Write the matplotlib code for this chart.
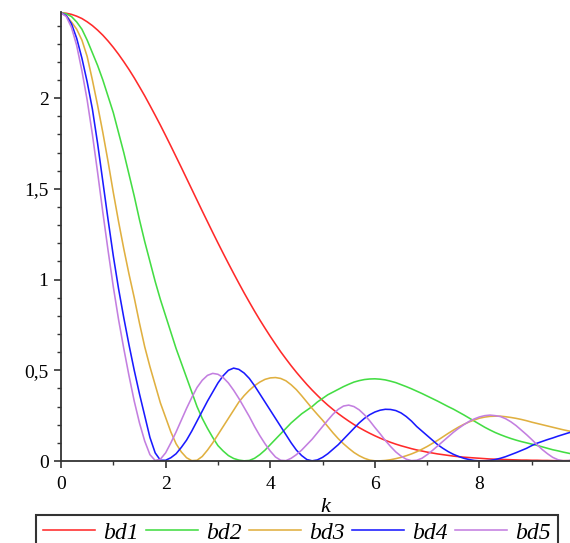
import matplotlib
matplotlib.use("Agg")
import matplotlib.pyplot as plt
import numpy as np
from matplotlib.ticker import MultipleLocator, FuncFormatter

# sample positions on k (0 .. 9.8, every 0.1)
k = np.round(np.arange(99) * 0.1, 1)

# values at those k
bd1 = [2.47, 2.468, 2.462, 2.452, 2.439, 2.421, 2.40, 2.375, 2.347, 2.315,
       2.28, 2.242, 2.201, 2.158, 2.112, 2.063, 2.013, 1.96, 1.906, 1.851,
       1.794, 1.736, 1.677, 1.618, 1.558, 1.498, 1.438, 1.378, 1.319, 1.26,
       1.202, 1.145, 1.089, 1.034, 0.98, 0.927, 0.876, 0.826, 0.778, 0.732,
       0.687, 0.644, 0.602, 0.563, 0.525, 0.489, 0.455, 0.422, 0.391, 0.362,
       0.334, 0.308, 0.284, 0.261, 0.24, 0.22, 0.201, 0.184, 0.168, 0.153,
       0.139, 0.126, 0.114, 0.103, 0.093, 0.084, 0.076, 0.068, 0.061, 0.055,
       0.049, 0.044, 0.039, 0.035, 0.031, 0.027, 0.024, 0.021, 0.019, 0.017,
       0.015, 0.013, 0.011, 0.01, 0.009, 0.008, 0.007, 0.006, 0.005, 0.005,
       0.004, 0.004, 0.003, 0.003, 0.002, 0.002, 0.002, 0.002, 0.001]

bd2 = [2.47, 2.465, 2.45, 2.42, 2.38, 2.32, 2.25, 2.18, 2.10, 2.01,
       1.92, 1.81, 1.70, 1.58, 1.46, 1.33, 1.21, 1.10, 0.99, 0.89,
       0.80, 0.71, 0.62, 0.54, 0.46, 0.38, 0.30, 0.235, 0.18, 0.13,
       0.085, 0.055, 0.03, 0.014, 0.005, 0.001, 0.003, 0.015, 0.035, 0.06,
       0.09, 0.12, 0.15, 0.18, 0.21, 0.235, 0.26, 0.28, 0.30, 0.325,
       0.345, 0.365, 0.38, 0.395, 0.41, 0.423, 0.435, 0.443, 0.449, 0.452,
       0.453, 0.451, 0.447, 0.44, 0.432, 0.421, 0.41, 0.398, 0.385, 0.372,
       0.358, 0.344, 0.33, 0.315, 0.30, 0.286, 0.27, 0.254, 0.237, 0.22,
       0.203, 0.186, 0.171, 0.157, 0.145, 0.134, 0.124, 0.115, 0.107, 0.10,
       0.093, 0.086, 0.078, 0.07, 0.062, 0.056, 0.049, 0.043, 0.037]

bd3 = [2.47, 2.455, 2.42, 2.38, 2.32, 2.23, 2.10, 1.96, 1.81, 1.65,
       1.48, 1.32, 1.17, 1.03, 0.90, 0.76, 0.63, 0.52, 0.42, 0.32,
       0.24, 0.16, 0.095, 0.05, 0.018, 0.002, 0.004, 0.025, 0.06, 0.10,
       0.145, 0.19, 0.235, 0.28, 0.325, 0.36, 0.39, 0.415, 0.435, 0.45,
       0.458, 0.46, 0.455, 0.442, 0.42, 0.393, 0.36, 0.325, 0.29, 0.257,
       0.225, 0.19, 0.155, 0.123, 0.095, 0.07, 0.047, 0.029, 0.015, 0.005,
       0.001, 0.001, 0.003, 0.007, 0.013, 0.02, 0.029, 0.039, 0.051, 0.065,
       0.08, 0.097, 0.114, 0.133, 0.152, 0.17, 0.187, 0.202, 0.215, 0.226,
       0.236, 0.242, 0.246, 0.247, 0.247, 0.244, 0.24, 0.235, 0.229, 0.222,
       0.214, 0.207, 0.20, 0.193, 0.186, 0.179, 0.172, 0.166, 0.16]

bd4 = [2.47, 2.455, 2.41, 2.33, 2.22, 2.09, 1.94, 1.75, 1.54, 1.33,
       1.13, 0.95, 0.79, 0.64, 0.50, 0.37, 0.25, 0.13, 0.045, 0.004,
       0.004, 0.018, 0.04, 0.075, 0.115, 0.165, 0.22, 0.275, 0.33, 0.38,
       0.43, 0.47, 0.50, 0.512, 0.505, 0.485, 0.455, 0.415, 0.37, 0.325,
       0.28, 0.235, 0.19, 0.145, 0.10, 0.06, 0.03, 0.008, 0.001, 0.006,
       0.02, 0.04, 0.065, 0.09, 0.12, 0.15, 0.18, 0.21, 0.235, 0.255,
       0.27, 0.28, 0.285, 0.284, 0.278, 0.265, 0.245, 0.22, 0.19, 0.165,
       0.14, 0.115, 0.09, 0.07, 0.052, 0.037, 0.025, 0.015, 0.008, 0.003,
       0.001, 0.001, 0.003, 0.008, 0.015, 0.024, 0.035, 0.046, 0.058, 0.07,
       0.085, 0.098, 0.108, 0.118, 0.127, 0.137, 0.146, 0.155, 0.163]

bd5 = [2.47, 2.45, 2.39, 2.29, 2.15, 1.99, 1.80, 1.59, 1.37, 1.16,
       0.96, 0.78, 0.62, 0.47, 0.33, 0.21, 0.11, 0.035, 0.003, 0.01,
       0.045, 0.10, 0.16, 0.225, 0.29, 0.35, 0.405, 0.445, 0.472, 0.483,
       0.478, 0.46, 0.43, 0.39, 0.345, 0.295, 0.245, 0.19, 0.14, 0.095,
       0.055, 0.022, 0.004, 0.002, 0.015, 0.035, 0.06, 0.09, 0.12, 0.155,
       0.19, 0.225, 0.258, 0.285, 0.303, 0.308, 0.30, 0.282, 0.255, 0.222,
       0.185, 0.15, 0.113, 0.08, 0.05, 0.027, 0.01, 0.002, 0.004, 0.015,
       0.035, 0.058, 0.083, 0.108, 0.133, 0.158, 0.18, 0.20, 0.218, 0.232,
       0.243, 0.25, 0.253, 0.25, 0.245, 0.233, 0.216, 0.195, 0.17, 0.145,
       0.118, 0.09, 0.063, 0.04, 0.02, 0.007, 0.001, 0.002, 0.01]

names = ["bd1", "bd2", "bd3", "bd4", "bd5"]
colors = ["#ff2a2a", "#44dd44", "#e0b040", "#1a1aff", "#c37fe0"]

serif = "Liberation Serif"

fig = plt.figure(figsize=(5.7, 5.43), dpi=100)
ax = fig.add_axes([61 / 570, 1 - 461 / 543, 1 - 61 / 570, (461 - 12) / 543])

for series, name, col in zip([bd1, bd2, bd3, bd4, bd5], names, colors):
    ax.plot(k, series, color=col, lw=1.15, label=name)

ax.set_xlim(0, 9.73)
ax.set_ylim(0, 2.475)

for side in ["top", "right"]:
    ax.spines[side].set_visible(False)
for side in ["left", "bottom"]:
    ax.spines[side].set_linewidth(1.3)
    ax.spines[side].set_color("#333333")

ax.xaxis.set_major_locator(MultipleLocator(2))
ax.xaxis.set_minor_locator(MultipleLocator(1))
ax.yaxis.set_major_locator(MultipleLocator(0.5))
ax.yaxis.set_minor_locator(MultipleLocator(0.1))
ax.yaxis.set_major_formatter(FuncFormatter(lambda v, p: f"{v:g}".replace(".", ",")))
ax.tick_params(which="major", direction="out", length=5, width=1.2,
               color="#333333", labelsize=14, pad=6)
ax.tick_params(axis="y", which="major", pad=4)
ax.tick_params(which="minor", direction="out", length=3, width=1.0,
               color="#333333")
for lab in ax.get_xticklabels() + ax.get_yticklabels():
    lab.set_fontfamily(serif)

fig.text(325 / 570, 1 - 508 / 543, "k", family=serif, style="italic",
         fontsize=16, ha="center", va="center")

leg = fig.legend(loc="upper center", bbox_to_anchor=(297 / 570, 1 - 515 / 543),
                 ncol=5, frameon=True, fancybox=False, handlelength=2.2,
                 handletextpad=0.35, columnspacing=0.3, borderpad=0.3,
                 borderaxespad=0.0,
                 prop={"family": serif, "style": "italic", "size": 17})
leg.get_frame().set_edgecolor("black")
leg.get_frame().set_linewidth(1.5)

fig.savefig("out.png", dpi=100)
